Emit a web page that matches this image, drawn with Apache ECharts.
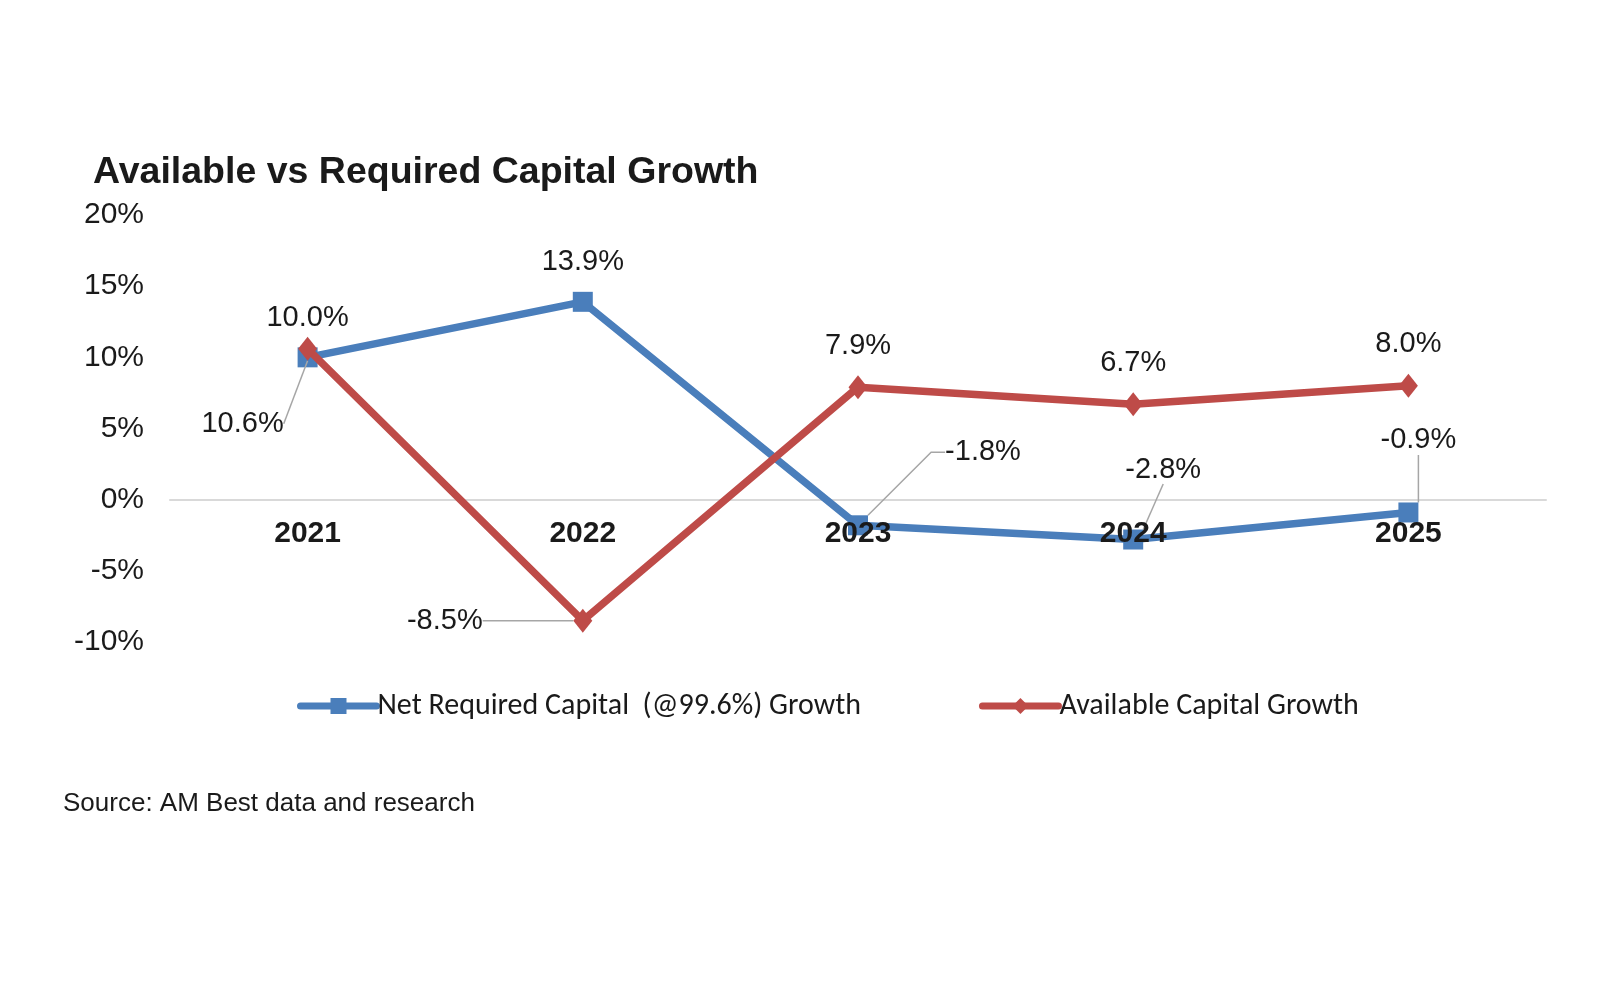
<!DOCTYPE html>
<html>
<head>
<meta charset="utf-8">
<title>Available vs Required Capital Growth</title>
<script src="https://cdn.jsdelivr.net/npm/echarts@6.0.0/dist/echarts.min.js"></script>
<style>
  html, body { margin: 0; padding: 0; background: #fff; }
  #chart { width: 1600px; height: 1000px; }
</style>
</head>
<body>
<div id="chart"></div>
<script>
// chart values
const years = ["2021", "2022", "2023", "2024", "2025"];
const requiredGrowth = [10.0, 13.9, -1.8, -2.8, -0.9];
const availableGrowth = [10.6, -8.5, 7.9, 6.7, 8.0];
const yTicks = { min: -10, max: 20, step: 5 };

const seriesNames = ["Net Required Capital  (@99.6%) Growth", "Available Capital Growth"];

// where the moved labels sit, relative to their point (px)
const requiredLabelMoves = [null, null, [125, -73], [30, -70], [10, -72]];
const availableLabelMoves = [[-65, 75], [-138, 0], null, null, null];

const BLUE = "#4a7ebb";
const RED = "#be4b48";
const LEADER = "#a6a6a6";
const TEXT = "#1a1a1a";
const FONT = "'Liberation Sans', Arial, sans-serif";

const GRID = { left: 170, right: 54, top: 215, bottom: 358 };
const plotHeight = 1000 - GRID.top - GRID.bottom;
// the x labels hang under the 0% line, not under the plot
const zeroOffset = plotHeight * (0 - yTicks.min) / (yTicks.max - yTicks.min);

function pointsWithLabels(values, moves, elbowAt) {
  return values.map((v, i) => {
    if (!moves[i]) return v;
    return {
      value: v,
      label: { position: "inside" },
      labelLine: { show: true, length2: i === elbowAt ? 14 : 0 },
    };
  });
}

function layoutFor(moves) {
  return (params) => {
    const m = moves[params.dataIndex];
    return m ? { dx: m[0], dy: m[1] } : {};
  };
}

const labelStyle = {
  show: true,
  position: "top",
  distance: 15,
  color: TEXT,
  fontFamily: FONT,
  fontSize: 29,
  formatter: (p) => p.value.toFixed(1) + "%",
};

const chart = echarts.init(document.getElementById("chart"), null, { renderer: "canvas" });

chart.setOption({
  backgroundColor: "#ffffff",
  animation: false,
  title: {
    text: "Available vs Required Capital Growth",
    left: 88,
    top: 149,
    textStyle: { fontFamily: FONT, fontWeight: "bold", fontSize: 37.5, color: TEXT },
  },
  graphic: [{
    type: "text",
    left: 63,
    top: 791,
    style: { text: "Source: AM Best data and research", fontFamily: FONT, fontSize: 26, fill: TEXT },
  }],
  legend: {
    data: seriesNames,
    left: 292,
    top: 686,
    itemWidth: 76,
    itemHeight: 20,
    itemGap: 118,
    lineStyle: { width: 7, cap: "round" },
    textStyle: { fontFamily: "Carlito, Lato, 'Open Sans', sans-serif", fontSize: 30, color: TEXT, padding: [0, 0, 0, -4] },
  },
  grid: { left: GRID.left, right: GRID.right, top: GRID.top, bottom: GRID.bottom, containLabel: false },
  xAxis: [
    {
      // the 0% line, under the series
      type: "category",
      data: years,
      boundaryGap: true,
      position: "bottom",
      offset: -zeroOffset,
      axisLine: { onZero: false, lineStyle: { color: "#d9d9d9", width: 2 } },
      axisTick: { show: false },
      axisLabel: { show: false },
      z: 1,
    },
    {
      // the year labels, drawn over the series
      type: "category",
      data: years,
      boundaryGap: true,
      position: "bottom",
      offset: -zeroOffset,
      axisLine: { show: false, onZero: false },
      axisTick: { show: false },
      axisLabel: { margin: 19, color: TEXT, fontFamily: FONT, fontWeight: "bold", fontSize: 30 },
      z: 10,
    },
  ],
  yAxis: {
    type: "value",
    min: yTicks.min,
    max: yTicks.max,
    interval: yTicks.step,
    axisLine: { show: false },
    axisTick: { show: false },
    splitLine: { show: false },
    axisLabel: { margin: 26, color: TEXT, fontFamily: FONT, fontSize: 30, formatter: "{value}%" },
  },
  series: [
    {
      name: seriesNames[0],
      type: "line",
      xAxisIndex: 0,
      data: pointsWithLabels(requiredGrowth, requiredLabelMoves, 2),
      color: BLUE,
      lineStyle: { width: 7.5, color: BLUE },
      symbol: "rect",
      symbolSize: 20,
      itemStyle: { color: BLUE },
      label: labelStyle,
      labelLine: { show: false, lineStyle: { color: LEADER, width: 1.5 } },
      labelLayout: layoutFor(requiredLabelMoves),
      z: 3,
    },
    {
      name: seriesNames[1],
      type: "line",
      xAxisIndex: 0,
      data: pointsWithLabels(availableGrowth, availableLabelMoves, -1),
      color: RED,
      lineStyle: { width: 7.5, color: RED },
      symbol: "diamond",
      symbolSize: [19, 24],
      itemStyle: { color: RED },
      label: labelStyle,
      labelLine: { show: false, lineStyle: { color: LEADER, width: 1.5 } },
      labelLayout: layoutFor(availableLabelMoves),
      z: 4,
    },
  ],
});
</script>
</body>
</html>
